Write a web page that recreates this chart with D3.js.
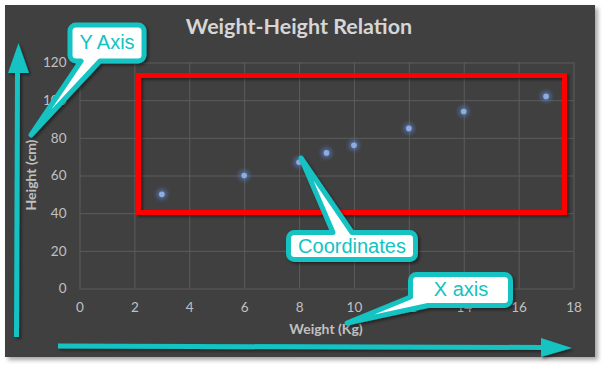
<!DOCTYPE html>
<html><head><meta charset="utf-8">
<script src="https://cdn.jsdelivr.net/npm/d3@7"></script>
<style>html,body{margin:0;padding:0;background:#fff;}svg{display:block;}</style>
</head><body>
<svg id="chart" width="604" height="366"></svg>
<script>
const weights = [3, 6, 8, 9, 10, 12, 14, 17];
const heights = [50, 60, 67, 72, 76, 85, 94, 102];
const xTicks = [0, 2, 4, 6, 8, 10, 12, 14, 16, 18];
const yTicks = [0, 20, 40, 60, 80, 100, 120];
const title = "Weight-Height Relation";
const xTitle = "Weight (Kg)";
const yTitle = "Height (cm)";

const CYAN = "#12c3c3";
const svg = d3.select("#chart");
const defs = svg.append("defs");
const sh = defs.append("filter").attr("id","shadow").attr("x","-20%").attr("y","-20%").attr("width","140%").attr("height","140%");
sh.append("feDropShadow").attr("dx",2).attr("dy",2).attr("stdDeviation",1.5).attr("flood-color","#000").attr("flood-opacity",0.45);
const csh = defs.append("filter").attr("id","cshadow").attr("x","-5%").attr("y","-5%").attr("width","110%").attr("height","110%");
csh.append("feDropShadow").attr("dx",3).attr("dy",3).attr("stdDeviation",2).attr("flood-color","#000").attr("flood-opacity",0.35);
const glow = defs.append("filter").attr("id","glow").attr("x","-100%").attr("y","-100%").attr("width","300%").attr("height","300%");
glow.append("feGaussianBlur").attr("stdDeviation",2.2);

svg.append("rect").attr("x",5).attr("y",5).attr("width",590).attr("height",352).attr("fill","#404040").attr("filter","url(#cshadow)");

const x = d3.scaleLinear().domain([0,18]).range([79.5,573.5]);
const y = d3.scaleLinear().domain([0,120]).range([288.5,62.5]);

// gridlines
const gx = svg.append("g").attr("transform","translate(0,288.5)")
  .call(d3.axisBottom(x).tickValues(xTicks).tickSize(-(288.5-62.5)).tickFormat(""));
gx.select(".domain").remove();
gx.selectAll("line").attr("stroke","#5c5c5c");
const gy = svg.append("g").attr("transform","translate(79.5,0)")
  .call(d3.axisLeft(y).tickValues(yTicks).tickSize(-(573.5-79.5)).tickFormat(""));
gy.select(".domain").remove();
gy.selectAll("line").attr("stroke","#5c5c5c");

// tick labels
const ax = svg.append("g").attr("transform","translate(0,288.5)")
  .call(d3.axisBottom(x).tickValues(xTicks).tickSize(0).tickPadding(14));
ax.select(".domain").remove();
ax.selectAll("text").attr("fill","#c0c0c0").attr("font-family","Lato, sans-serif").attr("font-size",13.5);
const ay = svg.append("g").attr("transform","translate(79.5,0)")
  .call(d3.axisLeft(y).tickValues(yTicks).tickSize(0).tickPadding(13));
ay.select(".domain").remove();
ay.selectAll("text").attr("fill","#c0c0c0").attr("font-family","Lato, sans-serif").attr("font-size",13.5);

// titles
svg.append("text").attr("x",299).attr("y",34).attr("text-anchor","middle")
  .attr("font-family","Lato, sans-serif").attr("font-weight","bold").attr("font-size",21.5)
  .attr("fill","#d6d6d6").text(title);
svg.append("text").attr("x",326).attr("y",334).attr("text-anchor","middle")
  .attr("font-family","Lato, sans-serif").attr("font-weight","bold").attr("font-size",14)
  .attr("fill","#c0c0c0").text(xTitle);
svg.append("text").attr("transform","translate(36,175) rotate(-90)").attr("text-anchor","middle")
  .attr("font-family","Lato, sans-serif").attr("font-weight","bold").attr("font-size",14)
  .attr("fill","#c0c0c0").text(yTitle);

// points
const pts = svg.append("g");
pts.selectAll("circle.g").data(weights).join("circle").attr("class","g")
  .attr("cx",(d)=>x(d)).attr("cy",(d,i)=>y(heights[i])).attr("r",5)
  .attr("fill","#5a7fc8").attr("opacity",0.75).attr("filter","url(#glow)");
pts.selectAll("circle.p").data(weights).join("circle").attr("class","p")
  .attr("cx",(d)=>x(d)).attr("cy",(d,i)=>y(heights[i])).attr("r",2.8)
  .attr("fill","#8fabdf");

// red rectangle
svg.append("rect").attr("x",138.5).attr("y",75.5).attr("width",426).attr("height",137)
  .attr("fill","none").attr("stroke","#ff0000").attr("stroke-width",5).attr("filter","url(#shadow)");

// arrows
const arr = svg.append("g").attr("filter","url(#shadow)");
arr.append("line").attr("x1",16.5).attr("y1",337).attr("x2",17.5).attr("y2",72)
  .attr("stroke",CYAN).attr("stroke-width",5);
arr.append("polygon").attr("points","8,73 18.5,43 29,73").attr("fill",CYAN);
arr.append("line").attr("x1",58).attr("y1",346).attr("x2",542).attr("y2",347.5)
  .attr("stroke",CYAN).attr("stroke-width",5);
arr.append("polygon").attr("points","541,338 572,348 541,357").attr("fill",CYAN);

// callouts
function callout(x0,y0,x1,y1,r,edge,a,b,tip){
  const p = d3.path();
  p.moveTo(x0+r,y0);
  if(edge==="top"){ p.lineTo(a,y0); p.lineTo(tip[0],tip[1]); p.lineTo(b,y0); }
  p.lineTo(x1-r,y0); p.arcTo(x1,y0,x1,y0+r,r);
  p.lineTo(x1,y1-r); p.arcTo(x1,y1,x1-r,y1,r);
  if(edge==="bottom"){ p.lineTo(b,y1); p.lineTo(tip[0],tip[1]); p.lineTo(a,y1); }
  if(edge==="bottomleft"){ p.lineTo(a,y1); p.lineTo(tip[0],tip[1]); p.lineTo(x0,b); p.lineTo(x0,y0+r); p.arcTo(x0,y0,x0+r,y0,r); p.closePath(); return p.toString(); }
  p.lineTo(x0+r,y1); p.arcTo(x0,y1,x0,y1-r,r);
  p.lineTo(x0,y0+r); p.arcTo(x0,y0,x0+r,y0,r);
  p.closePath();
  return p.toString();
}
const callouts = [
  {box:[70,25,144,61], edge:"bottom", a:81, b:100, tip:[31,135], text:"Y Axis", tx:107, ty:49},
  {box:[288.5,232.5,415.5,259.5], edge:"top", a:333, b:352, tip:[301,158], text:"Coordinates", tx:352, ty:253},
  {box:[410.5,274.5,510.5,305.5], edge:"bottomleft", a:428, b:297, tip:[347,323], text:"X axis", tx:461, ty:296}
];
const cg = svg.append("g");
callouts.forEach(c=>{
  cg.append("path").attr("d",callout(c.box[0],c.box[1],c.box[2],c.box[3],6,c.edge,c.a,c.b,c.tip))
    .attr("fill","#ffffff").attr("stroke",CYAN).attr("stroke-width",5).attr("stroke-linejoin","round")
    .attr("filter","url(#shadow)");
  cg.append("text").attr("x",c.tx).attr("y",c.ty).attr("text-anchor","middle")
    .attr("font-family","'Liberation Sans', Arial, sans-serif").attr("font-size",20)
    .attr("fill",CYAN).text(c.text);
});
</script>
</body></html>
